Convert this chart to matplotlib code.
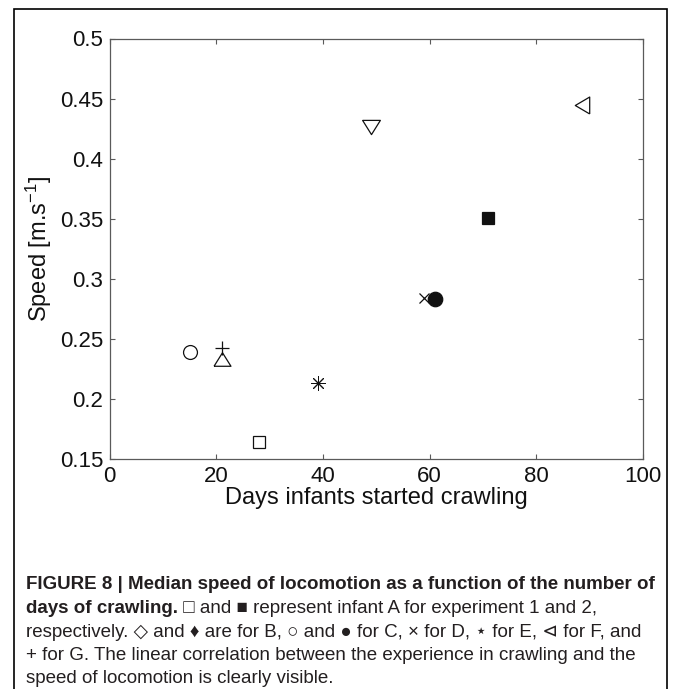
import matplotlib
matplotlib.use("Agg")
import matplotlib.pyplot as plt
from matplotlib.patches import Rectangle
from matplotlib import font_manager

plt.rcParams["font.family"] = ["Liberation Sans", "DejaVu Sans"]
plt.rcParams["mathtext.fontset"] = "custom"
plt.rcParams["mathtext.rm"] = "Liberation Sans"
plt.rcParams["mathtext.it"] = "Liberation Sans:italic"
plt.rcParams["mathtext.bf"] = "Liberation Sans:bold"

# Median speed per infant
infants = ["A1", "A2", "B1", "B2", "C1", "C2", "D", "E", "F", "G"]
days = [28, 71, 21, 49, 15, 61, 59, 39, 88.5, 21]
speed = [0.1645, 0.351, 0.233, 0.426, 0.239, 0.283, 0.284, 0.213, 0.445, 0.2425]

xticks = [0, 20, 40, 60, 80, 100]
yticks = [0.15, 0.2, 0.25, 0.3, 0.35, 0.4, 0.45, 0.5]
ytick_labels = ["0.15", "0.2", "0.25", "0.3", "0.35", "0.4", "0.45", "0.5"]

caption_title = "FIGURE 8 | Median speed of locomotion as a function of the number of"
caption_bold = "days of crawling."
caption_lines = [
    " \u25A1 and \u25A0 represent infant A for experiment 1 and 2,",
    "respectively. \u25C7 and \u2666 are for B, \u25CB and \u25CF for C, \u00D7 for D, \u22C6 for E, \u22B2 for F, and",
    "+ for G. The linear correlation between the experience in crawling and the",
    "speed of locomotion is clearly visible.",
]

# MATLAB-like marker shapes
tri_up = [(-1, -0.8), (1, -0.8), (0, 0.8), (-1, -0.8)]
tri_down = [(-1, 0.8), (1, 0.8), (0, -0.8), (-1, 0.8)]
tri_left = [(0.85, -1), (0.85, 1), (-0.85, 0), (0.85, -1)]
styles = {
    "A1": dict(marker="s", ms=8.6, filled=False, mew=0.9),
    "A2": dict(marker="s", ms=9.2, filled=True, mew=0.9),
    "B1": dict(marker=tri_up, ms=12.2, filled=False, mew=0.9),
    "B2": dict(marker=tri_down, ms=12.8, filled=False, mew=0.9),
    "C1": dict(marker="o", ms=10, filled=False, mew=0.9),
    "C2": dict(marker="o", ms=10.4, filled=True, mew=0.9),
    "D": dict(marker="x", ms=7.2, filled=False, mew=0.9),
    "E": dict(marker=(8, 2, 0), ms=10.5, filled=False, mew=0.7),
    "F": dict(marker=tri_left, ms=12.2, filled=False, mew=0.9),
    "G": dict(marker="+", ms=9.6, filled=False, mew=0.9),
}

W, H = 673, 689
fig = plt.figure(figsize=(W / 100, H / 100), dpi=100)
fig.patch.set_facecolor("white")

ax = fig.add_axes([109.5 / W, 1 - 459 / H, (643 - 109.5) / W, (459 - 38.5) / H])

for name, d, s in zip(infants, days, speed):
    st = styles[name]
    ax.plot(d, s, linestyle="none", marker=st["marker"], ms=st["ms"],
            mfc="#111111" if st["filled"] else "none", mec="#111111", mew=st["mew"])

ax.set_xlim(0, 100)
ax.set_ylim(0.15, 0.5)
ax.set_xticks(xticks)
ax.set_xticklabels([str(x) for x in xticks])
ax.set_yticks(yticks)
ax.set_yticklabels(ytick_labels)

axis_grey = "#5a5a5a"
for sp in ax.spines.values():
    sp.set_color(axis_grey)
    sp.set_linewidth(0.9)
ax.tick_params(direction="in", length=3.6, width=0.8, color=axis_grey,
               top=True, right=True, labelsize=16, labelcolor="#111111")
ax.tick_params(axis="x", pad=5)
ax.tick_params(axis="y", pad=4.5)

ax.set_xlabel("Days infants started crawling", fontsize=17, color="#111111", labelpad=0)
ax.set_ylabel("Speed [m.s$^{-1}$]", fontsize=17, color="#111111", labelpad=4)

# outer frame of the figure panel
fig.patches.append(Rectangle((13.5 / W, -0.05), (667 - 13.5) / W, 1.05 - 8.5 / H,
                             transform=fig.transFigure, fill=False, lw=1.2, ec="black"))

# caption
names = {f.name for f in font_manager.fontManager.ttflist}
narrow = "Liberation Sans Narrow" if "Liberation Sans Narrow" in names else "Liberation Sans"
cap_fam = ["Liberation Sans", "DejaVu Sans"]
bold_fam = [narrow, "DejaVu Sans"]
cap_color = "#231f20"
x0 = 26 / W
baselines = [589, 613, 637, 660, 683]

renderer = fig.canvas.get_renderer()

t1 = fig.text(x0, 1 - baselines[0] / H, caption_title, family=bold_fam, weight="bold",
              fontsize=13, color=cap_color, va="baseline", ha="left")
bold_size = 13 * 628 / t1.get_window_extent(renderer).width
t1.set_fontsize(bold_size)

# regular size fitted on the fourth line
probe = fig.text(x0, 1 - baselines[3] / H, caption_lines[2], family=cap_fam,
                 fontsize=12, color=cap_color, va="baseline", ha="left")
reg_size = 12 * 612 / probe.get_window_extent(renderer).width
probe.set_fontsize(reg_size)

tb = fig.text(x0, 1 - baselines[1] / H, caption_bold, family=bold_fam, weight="bold",
              fontsize=bold_size, color=cap_color, va="baseline", ha="left")
bbb = tb.get_window_extent(renderer)
fig.text(bbb.x1 / W, 1 - baselines[1] / H, caption_lines[0], family=cap_fam,
         fontsize=reg_size, color=cap_color, va="baseline", ha="left")
fig.text(x0, 1 - baselines[2] / H, caption_lines[1], family=cap_fam,
         fontsize=reg_size, color=cap_color, va="baseline", ha="left")
fig.text(x0, 1 - baselines[4] / H, caption_lines[3], family=cap_fam,
         fontsize=reg_size, color=cap_color, va="baseline", ha="left")

fig.savefig("out.png", dpi=100)
plt.close(fig)
